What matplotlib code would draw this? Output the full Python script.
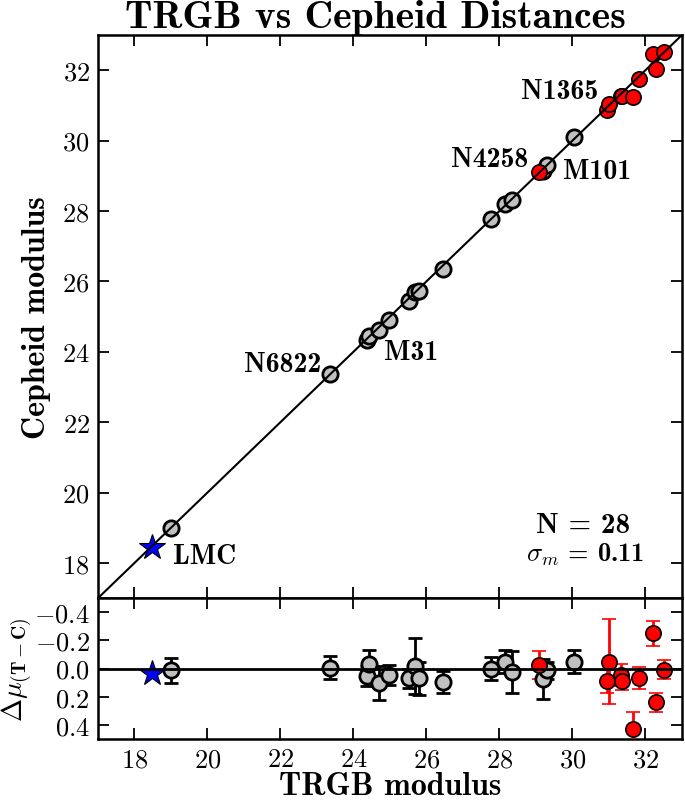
import numpy as np
import matplotlib
matplotlib.use("Agg")
import matplotlib.pyplot as plt

plt.rcParams['font.family'] = 'serif'
plt.rcParams['font.serif'] = ['cmr10']
plt.rcParams['mathtext.fontset'] = 'cm'
plt.rcParams['axes.formatter.use_mathtext'] = True
plt.rcParams['axes.unicode_minus'] = True

# TRGB modulus, delta = TRGB - Cepheid, error on delta
gray_trgb = [19.00, 23.35, 24.38, 24.43, 24.71, 24.96, 25.52, 25.69, 25.79,
             26.44, 27.76, 28.15, 28.33, 29.20, 29.31, 30.04]
gray_delta = [0.012, -0.007, 0.055, -0.03, 0.10, 0.045, 0.07, -0.02, 0.07,
              0.095, 0.0, -0.05, 0.025, 0.075, 0.012, -0.05]
gray_err = [0.09, 0.08, 0.07, 0.10, 0.12, 0.07, 0.07, 0.20, 0.12,
            0.08, 0.08, 0.08, 0.15, 0.14, 0.06, 0.08]

red_trgb = [29.07, 30.95, 31.00, 31.32, 31.36, 31.67, 31.81, 32.21, 32.28, 32.51]
red_delta = [-0.025, 0.09, -0.05, 0.045, 0.085, 0.43, 0.068, -0.25, 0.24, 0.007]
red_err = [0.10, 0.08, 0.30, 0.08, 0.07, 0.12, 0.08, 0.09, 0.07, 0.07]

lmc_trgb = 18.47
lmc_delta = 0.03

labels = ['N1365', 'N4258', 'M101', 'M31', 'N6822', 'LMC']
label_x = [30.70, 28.78, 29.74, 24.84, 23.11, 19.05]
label_y = [31.42, 29.48, 29.14, 23.98, 23.64, 18.20]
label_ha = ['right', 'right', 'left', 'left', 'right', 'left']

gray_trgb = np.array(gray_trgb)
red_trgb = np.array(red_trgb)
gray_ceph = gray_trgb - np.array(gray_delta)
red_ceph = red_trgb - np.array(red_delta)
lmc_ceph = lmc_trgb - lmc_delta

fig = plt.figure(figsize=(6.85, 8.03), dpi=100)
gs = fig.add_gridspec(2, 1, height_ratios=[4, 1], hspace=0,
                      left=0.143, right=0.9956, top=0.9552, bottom=0.0785)
ax = fig.add_subplot(gs[0])
ax2 = fig.add_subplot(gs[1], sharex=ax)

gcol = '#c0c0c0'

# top panel
ax.plot(gray_trgb, gray_ceph, 'o', ms=11, mfc=gcol, mec='k', mew=2, zorder=3)
ax.plot(red_trgb, red_ceph, 'o', ms=11, mfc='red', mec='k', mew=1.2, zorder=3)
ax.plot([lmc_trgb], [lmc_ceph], '*', ms=19, mfc='blue', mec='k', mew=0.8, zorder=3)
ax.plot([17, 33], [17, 33], 'k-', lw=1.5, zorder=4)
ax.set_xlim(17, 33)
ax.set_ylim(17, 33)
ax.set_yticks(np.arange(18, 33, 2))
ax.set_ylabel('Cepheid modulus', family='cmb10', fontsize=23, labelpad=8)
plt.setp(ax.get_xticklabels(), visible=False)

for t, x, y, ha in zip(labels, label_x, label_y, label_ha):
    ax.text(x, y, t, family='cmb10', fontsize=20, ha=ha, va='center', zorder=5)

ax.text(0.83, 0.13, 'N = 28', transform=ax.transAxes, family='cmb10',
        fontsize=21, ha='center', va='center')
ax.text(0.834, 0.078, r'$\sigma_m$ = 0.11', transform=ax.transAxes, family='cmb10',
        fontsize=19, ha='center', va='center')

fig.text(375 / 685, 1 - 18 / 803, 'TRGB vs Cepheid Distances', family='cmb10',
         fontsize=28.5, ha='center', va='center')

# bottom panel
ax2.errorbar(gray_trgb, gray_delta, yerr=gray_err, fmt='o', ms=11, mfc=gcol,
             mec='k', mew=2, ecolor='k', elinewidth=2, capsize=5, capthick=2, zorder=3)
ax2.errorbar(red_trgb, red_delta, yerr=red_err, fmt='o', ms=11, mfc='red',
             mec='k', mew=1.2, ecolor='red', elinewidth=2, capsize=5, capthick=2, zorder=3)
ax2.plot([lmc_trgb], [lmc_delta], '*', ms=19, mfc='blue', mec='k', mew=0.8, zorder=3)
ax2.axhline(0, color='k', lw=2, zorder=4)
ax2.set_ylim(0.5, -0.5)
ax2.set_yticks([-0.4, -0.2, 0.0, 0.2, 0.4])
ax2.set_xticks(np.arange(18, 33, 2))
ax2.set_xlabel('TRGB modulus', family='cmb10', fontsize=23, labelpad=0)
ax2.set_ylabel(r'$\mathbf{\Delta}\mu_{\mathbf{(T-C)}}$', fontsize=20, labelpad=0)

for a in (ax, ax2):
    a.tick_params(direction='in', which='major', length=8, width=1.3,
                  top=True, right=True, labelsize=19, pad=6)
    for s in a.spines.values():
        s.set_linewidth(1.8)

plt.savefig('out.png', dpi=100)
